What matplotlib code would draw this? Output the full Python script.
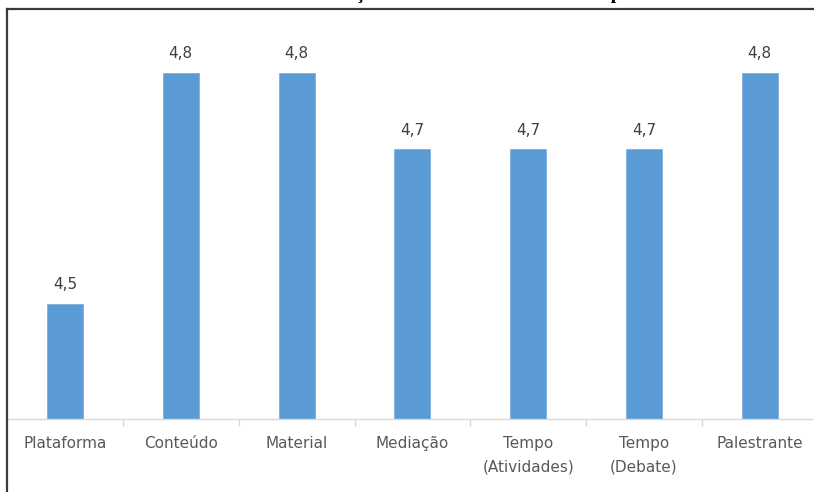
import numpy as np
import matplotlib
matplotlib.use("Agg")
import matplotlib.pyplot as plt
from matplotlib.lines import Line2D

# data
categories = ["Plataforma", "Conteúdo", "Material", "Mediação",
              "Tempo\n(Atividades)", "Tempo\n(Debate)", "Palestrante"]
scores = [4.5, 4.8, 4.8, 4.7, 4.7, 4.7, 4.8]
title = "Avaliação dos Itens do Curso Online por Média"

W, H = 814, 492
plt.rcParams['font.family'] = ['Liberation Sans Narrow', 'DejaVu Sans']

fig = plt.figure(figsize=(W / 100, H / 100), dpi=100)

# axes: left edge at the frame, right edge runs off the picture
step = 115.8
left_px = 7.1
base_px = 419
ax = fig.add_axes([left_px / W, (H - base_px) / H, 7 * step / W, base_px / H])

x = np.arange(len(categories))
ax.bar(x, scores, width=0.31, color="#5B9BD5", edgecolor="#7FB0DE",
       linewidth=0.6, zorder=2)

ymin = 4.35
ymax = ymin + base_px / 770
ax.set_ylim(ymin, ymax)
ax.set_xlim(-0.5, len(categories) - 0.5)

for xi, v in zip(x, scores):
    ax.annotate(f"{v:.1f}".replace(".", ","), (xi, v), xytext=(0, 8),
                textcoords="offset points", ha="center", va="bottom",
                fontsize=11, color="#404040")

for s in ["top", "left", "right"]:
    ax.spines[s].set_visible(False)
ax.spines["bottom"].set_color("#D9D9D9")
ax.spines["bottom"].set_linewidth(1.0)
ax.set_yticks([])

ax.set_xticks(x)
ax.set_xticklabels(categories, fontsize=11, color="#595959", linespacing=1.75)
ax.tick_params(axis="x", which="major", length=0, pad=12)
ax.set_xticks(np.arange(len(categories) - 1) + 0.5, minor=True)
ax.tick_params(axis="x", which="minor", length=5, color="#D9D9D9", width=1)
for lbl in ax.get_xticklabels():
    lbl.set_verticalalignment("top")

# chart frame (top and left edges visible)
fy = 1 - 9 / H
fx = 7 / W
fig.add_artist(Line2D([fx, 1], [fy, fy], transform=fig.transFigure,
                      color="#3A3A3A", lw=1.6))
fig.add_artist(Line2D([fx, fx], [0, fy], transform=fig.transFigure,
                      color="#3A3A3A", lw=1.6))

# title mostly cut off by the top edge, as in the source picture
fig.text(500 / W, 1 + 1.5 / H, title, ha="center", va="baseline",
         fontsize=14, fontweight="bold", family=["Liberation Serif"],
         color="#000000")

fig.savefig("out.png", dpi=100)
